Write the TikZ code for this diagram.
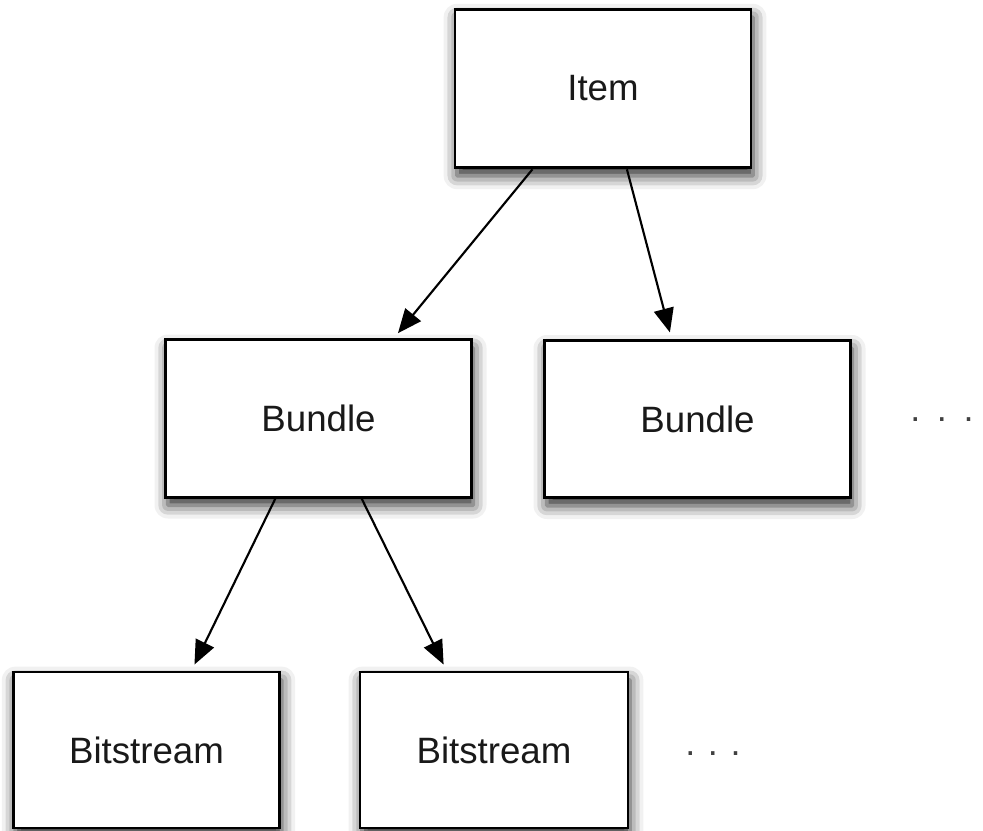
\documentclass[tikz,border=0pt]{standalone}
\usepackage{fontspec}
\setmainfont{Liberation Sans}
\usetikzlibrary{arrows.meta,shadows.blur,calc}
\tikzset{
  box/.style={draw=black, line width=2.2pt, fill=white, inner sep=0pt,
    font=\fontsize{27.5}{32}\selectfont, text=black!90,
    blur shadow={shadow xshift=1.5pt, shadow yshift=-6pt, shadow blur radius=10pt, shadow opacity=85}},
  link/.style={line width=1.6pt, -{Triangle[length=18pt,width=15pt]}, shorten >=5pt},
  dots/.style={font=\fontsize{27}{32}\selectfont, text=black!75, inner sep=0pt}
}
\begin{document}
\begin{tikzpicture}[x=0.75pt,y=-0.75pt]
\useasboundingbox (0,0) rectangle (983,831);
\clip (0,0) rectangle (983,831);
\node[box, minimum width=222pt, minimum height=119pt] (item) at (603,88.5) {Item};
\node[box, minimum width=229pt, minimum height=118pt] (b1) at (318.5,418.5) {Bundle};
\node[box, minimum width=229pt, minimum height=118pt] (b2) at (697.5,419) {Bundle};
\node[box, minimum width=200pt, minimum height=117pt] (s1) at (146.5,750) {Bitstream};
\node[box, minimum width=201pt, minimum height=117pt] (s2) at (494,750) {Bitstream};
\node[dots] (d1) at (942,420) {.\hspace{12.5pt}.\hspace{12.5pt}.};
\node[dots] (d2) at (713,754) {.\hspace{9.5pt}.\hspace{9.5pt}.};
\draw[link] ($(item.south west)!0.264!(item.south east)$) -- ($(b1.north west)!0.744!(b1.north east)$);
\draw[link] ($(item.south west)!0.58!(item.south east)$) -- ($(b2.north west)!0.416!(b2.north east)$);
\draw[link] ($(b1.south west)!0.36!(b1.south east)$) -- ($(s1.north west)!0.667!(s1.north east)$);
\draw[link] ($(b1.south west)!0.64!(b1.south east)$) -- ($(s2.north west)!0.325!(s2.north east)$);
\end{tikzpicture}
\end{document}
